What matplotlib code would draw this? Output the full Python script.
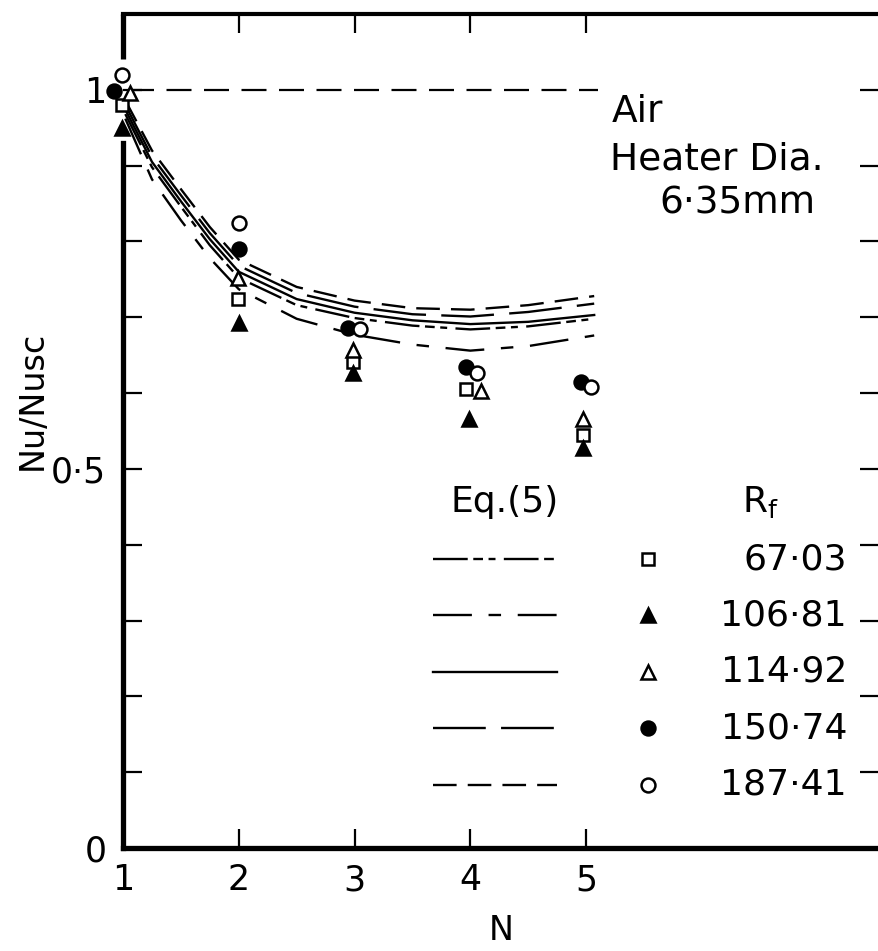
import numpy as np
import matplotlib.pyplot as plt

plt.rcParams['font.family'] = ['DejaVu Sans']
plt.rcParams['lines.scale_dashes'] = False

rf_labels = ['67·03', '106·81', '114·92', '150·74', '187·41']

n_67 = [0.99, 1.99, 2.99, 3.96, 4.97]
nu_67 = [0.980, 0.724, 0.641, 0.606, 0.545]
n_106 = [0.99, 2.00, 2.99, 3.99, 4.97]
nu_106 = [0.949, 0.693, 0.626, 0.566, 0.527]
n_114 = [1.06, 1.99, 2.99, 4.09, 4.97]
nu_114 = [0.996, 0.752, 0.657, 0.603, 0.566]
n_150 = [0.92, 2.00, 2.94, 3.96, 4.96]
nu_150 = [0.998, 0.790, 0.686, 0.634, 0.614]
n_187 = [0.99, 2.00, 3.05, 4.06, 5.04]
nu_187 = [1.020, 0.824, 0.684, 0.626, 0.608]

# Eq.(5) curves
curve_n = [1.02, 1.25, 1.5, 1.75, 2.0, 2.5, 3.0, 3.5, 4.0, 4.5, 5.07]
eq_67 = [0.968, 0.898, 0.846, 0.795, 0.752, 0.716, 0.699, 0.689, 0.684, 0.688, 0.698]
eq_106 = [0.962, 0.882, 0.828, 0.778, 0.737, 0.698, 0.677, 0.664, 0.656, 0.662, 0.676]
eq_114 = [0.974, 0.905, 0.853, 0.803, 0.760, 0.724, 0.706, 0.696, 0.691, 0.694, 0.703]
eq_150 = [0.980, 0.912, 0.861, 0.811, 0.768, 0.732, 0.714, 0.704, 0.701, 0.707, 0.718]
eq_187 = [0.986, 0.920, 0.869, 0.819, 0.776, 0.740, 0.722, 0.712, 0.710, 0.716, 0.728]

# reference line Nu/Nusc = 1
ref_n = [1.05, 5.1]
ref_nu = [1.0, 1.0]

x_ticks = [1, 2, 3, 4, 5]
y_ticks = [0, 0.1, 0.2, 0.3, 0.4, 0.5, 0.6, 0.7, 0.8, 0.9, 1.0]
y_ticklabels = ['0', '', '', '', '', '0·5', '', '', '', '', '1']

pts_n = [n_67, n_106, n_114, n_150, n_187]
pts_nu = [nu_67, nu_106, nu_114, nu_150, nu_187]
curves = [eq_67, eq_106, eq_114, eq_150, eq_187]

markers = ['s', '^', '^', 'o', 'o']
filled = [False, True, False, True, False]
msizes = [8.5, 10.5, 10.5, 10, 10]
dashes = [(0, (25, 4, 7, 4, 5, 6)), (0, (28, 12, 9, 12)), '-', (0, (38, 11)), (0, (17, 8))]

fig = plt.figure(figsize=(8.79, 9.51), dpi=100)
ax = fig.add_axes([123 / 879, 1 - 848 / 951, 1 - 123 / 879, (848 - 14) / 951])

ax.plot(ref_n, ref_nu, color='k', lw=1.6, linestyle=(0, (18, 9)))

for i in range(5):
    ax.plot(curve_n, curves[i], color='k', lw=1.7, linestyle=dashes[i])
    fc = 'k' if filled[i] else 'white'
    ax.plot(pts_n[i], pts_nu[i], linestyle='none', marker=markers[i], ms=msizes[i],
            mfc=fc, mec='k', mew=1.8, clip_on=False, zorder=5)

ax.set_xlim(1.0, 7.53)
ax.set_ylim(0, 1.10)
ax.set_xticks(x_ticks)
ax.set_xticklabels([str(v) for v in x_ticks])
ax.set_yticks(y_ticks)
ax.set_yticklabels(y_ticklabels)
ax.tick_params(axis='both', direction='in', length=14, width=1.6, labelsize=25,
               top=True, right=True)
ax.tick_params(axis='x', pad=11)
ax.tick_params(axis='y', pad=12)

ax.spines['right'].set_visible(False)
ax.spines['left'].set_linewidth(3.8)
ax.spines['bottom'].set_linewidth(3.8)
ax.spines['top'].set_linewidth(3.0)
# left spine is broken where the N=1 points sit
ax.spines['left'].set_bounds(0, 0.93)
ax.plot([0, 0], [1.04, 1.10], transform=ax.get_yaxis_transform(), color='k',
        lw=3.8, clip_on=False, solid_capstyle='butt')

ax.set_xlabel('N', fontsize=24, labelpad=12)
fig.text(32 / 879, 1 - 400 / 951, 'Nu/Nusc', rotation=90, fontsize=24,
         ha='center', va='center')

# annotation
ax.text(0.647, 0.8825, 'Air', transform=ax.transAxes, fontsize=27, ha='left', va='center')
ax.text(0.644, 0.825, 'Heater Dia.', transform=ax.transAxes, fontsize=27, ha='left', va='center')
ax.text(0.813, 0.773, '6·35mm', transform=ax.transAxes, fontsize=27, ha='center', va='center')

# hand-made legend
ax.text(0.5053, 0.4149, 'Eq.(5)', transform=ax.transAxes, fontsize=26, ha='center', va='center')
ax.text(0.8188, 0.4149, r'R$_\mathregular{f}$', transform=ax.transAxes, fontsize=26,
        ha='left', va='center')
for i in range(5):
    yy = 0.3465 - i * 0.0677
    ax.plot([0.410, 0.574], [yy, yy], transform=ax.transAxes, color='k', lw=1.7,
            linestyle=dashes[i])
    fc = 'k' if filled[i] else 'white'
    ax.plot([0.6944], [yy], transform=ax.transAxes, linestyle='none', marker=markers[i],
            ms=msizes[i], mfc=fc, mec='k', mew=1.8)
    ax.text(0.9577, yy, rf_labels[i], transform=ax.transAxes, fontsize=26,
            ha='right', va='center')

fig.savefig('out.png', dpi=100)
